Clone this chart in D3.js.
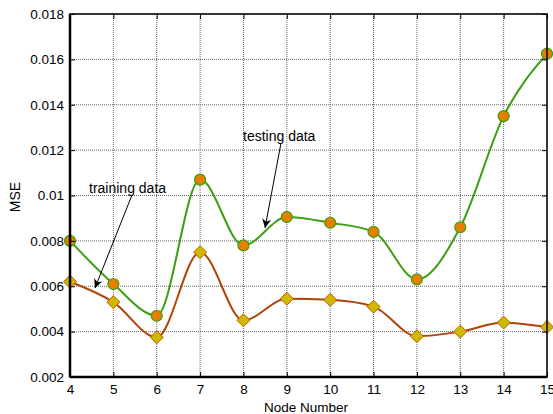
<!DOCTYPE html>
<html><head><meta charset="utf-8">
<script src="https://cdn.jsdelivr.net/npm/d3@7"></script>
<style>
body{margin:0;background:#fff;}
text{font-family:"Liberation Sans",Arial,sans-serif;}
</style></head>
<body><svg id="c" width="553" height="414"></svg>
<script>
const nodes = [4,5,6,7,8,9,10,11,12,13,14,15];
const testing = [0.0080,0.0061,0.0047,0.0107,0.0078,0.00905,0.0088,0.0084,0.0063,0.0086,0.0135,0.01625];
const training = [0.0062,0.0053,0.00375,0.0075,0.0045,0.00545,0.0054,0.0051,0.0038,0.0040,0.0044,0.0042];
const yTicks = [0.002,0.004,0.006,0.008,0.01,0.012,0.014,0.016,0.018];
const yTickLabels = ["0.002","0.004","0.006","0.008","0.01","0.012","0.014","0.016","0.018"];
const xTicks = nodes;

const svg = d3.select("#c");
const L=70, R=547, T=14, B=377;
const x = d3.scaleLinear().domain([4,15]).range([L,R]);
const y = d3.scaleLinear().domain([0.002,0.018]).range([B,T]);

// grid
const g = svg.append("g");
g.selectAll(".gx").data(xTicks).enter().append("line")
 .attr("x1",d=>x(d)).attr("x2",d=>x(d)).attr("y1",T).attr("y2",B)
 .attr("stroke","#666").attr("stroke-width",1).attr("stroke-dasharray","1,1");
g.selectAll(".gy").data(yTicks).enter().append("line")
 .attr("x1",L).attr("x2",R).attr("y1",d=>y(d)).attr("y2",d=>y(d))
 .attr("stroke","#666").attr("stroke-width",1).attr("stroke-dasharray","1,1");

// lines
const line = (arr)=>d3.line().x((d,i)=>x(nodes[i])).y(d=>y(d)).curve(d3.curveMonotoneX)(arr);
svg.append("path").attr("d",line(testing)).attr("fill","none").attr("stroke","#3c9e12").attr("stroke-width",2);
svg.append("path").attr("d",line(training)).attr("fill","none").attr("stroke","#b04408").attr("stroke-width",2);

// markers
svg.selectAll(".mt").data(testing).enter().append("circle")
 .attr("cx",(d,i)=>x(nodes[i])).attr("cy",d=>y(d)).attr("r",5.5)
 .attr("fill","#e67e00").attr("stroke","#3c9e12").attr("stroke-width",1.2);
const ds=6.5;
svg.selectAll(".md").data(training).enter().append("path")
 .attr("d",(d,i)=>{const cx=x(nodes[i]),cy=y(d);return `M${cx},${cy-ds}L${cx+ds},${cy}L${cx},${cy+ds}L${cx-ds},${cy}Z`;})
 .attr("fill","#cfb800").attr("stroke","#c05a00").attr("stroke-width",1);

// axes
const ax = d3.axisBottom(x).tickValues(xTicks).tickSize(-5).tickPadding(7).tickFormat(d3.format("d"));
const ay = d3.axisLeft(y).tickValues(yTicks).tickSize(-5).tickPadding(6).tickFormat((d,i)=>yTickLabels[i]);
const gx = svg.append("g").attr("transform",`translate(0,${B})`).call(ax);
const gy = svg.append("g").attr("transform",`translate(${L},0)`).call(ay);
const gy2 = svg.append("g").attr("transform",`translate(${R},0)`).call(d3.axisRight(y).tickValues(yTicks).tickSize(-5).tickFormat(""));
const gx2 = svg.append("g").attr("transform",`translate(0,${T})`).call(d3.axisTop(x).tickValues(xTicks).tickSize(-5).tickFormat(""));
[gx,gy,gx2,gy2].forEach(a=>{a.select(".domain").remove();a.selectAll("line").attr("stroke","#000");});
[gx,gy].forEach(a=>a.selectAll("text").attr("font-size",13.5).attr("fill","#000").style("font-family","'Liberation Sans',Arial,sans-serif"));

svg.append("rect").attr("x",L).attr("y",T).attr("width",R-L).attr("height",B-T)
 .attr("fill","none").attr("stroke","#000").attr("stroke-width",1.5);
svg.append("line").attr("x1",L).attr("x2",L).attr("y1",T).attr("y2",B).attr("stroke","#000").attr("stroke-width",2.5);
svg.append("line").attr("x1",L).attr("x2",R).attr("y1",B).attr("y2",B).attr("stroke","#000").attr("stroke-width",2.5);

// labels
svg.append("text").attr("x",306).attr("y",411.5).attr("text-anchor","middle").attr("font-size",13.5).text("Node Number");
svg.append("text").attr("transform","translate(20,197) rotate(-90)").attr("text-anchor","middle").attr("font-size",14).text("MSE");

// annotations
svg.append("defs").append("marker").attr("id","ah").attr("viewBox","0 0 10 10").attr("refX",10).attr("refY",5)
 .attr("markerWidth",9).attr("markerHeight",9).attr("markerUnits","userSpaceOnUse").attr("orient","auto")
 .append("path").attr("d","M0,0L10,5L0,10L3,5Z").attr("fill","#000");
svg.append("text").attr("x",243).attr("y",141).attr("font-size",14).text("testing data");
svg.append("line").attr("x1",281).attr("y1",143).attr("x2",265).attr("y2",228).attr("stroke","#000").attr("stroke-width",1).attr("marker-end","url(#ah)");
svg.append("text").attr("x",89).attr("y",193).attr("font-size",14).text("training data");
svg.append("line").attr("x1",132).attr("y1",195).attr("x2",95).attr("y2",288).attr("stroke","#000").attr("stroke-width",1).attr("marker-end","url(#ah)");
</script></body></html>
